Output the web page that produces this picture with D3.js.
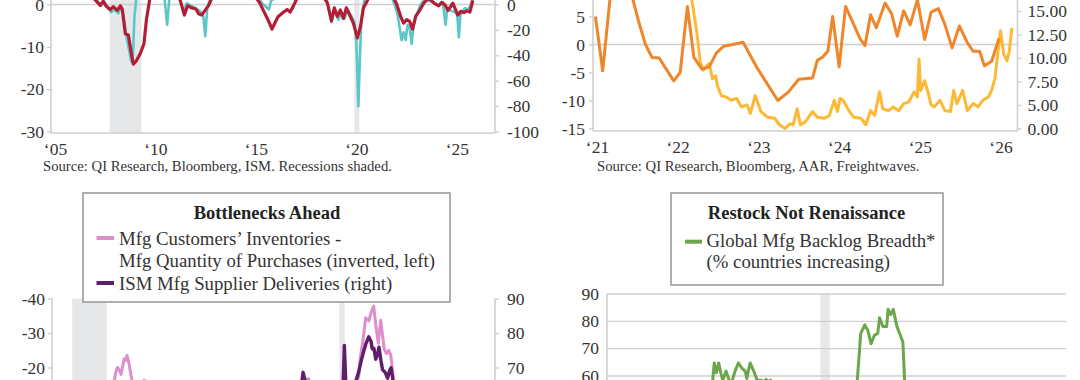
<!DOCTYPE html>
<html>
<head>
<meta charset="utf-8">
<script src="https://cdn.jsdelivr.net/npm/d3@7"></script>
<style>
  body { margin: 0; background: #fff; }
</style>
</head>
<body>
<div id="chart-area"></div>
<script>
const FONT = "'Liberation Serif', 'Times New Roman', serif"

// recession / covid shading, shared by the panels
const recessions = [[2007.92, 2009.5], [2020.1, 2020.35]]

// ---- top left panel
const tlYears = [2005, 2010, 2015, 2020, 2025]
const tlLeftTicks = [0, -10, -20, -30]
const tlRightTicks = [0, -20, -40, -60, -80, -100]
const tlRed = [[2005.0, 8], [2006.0, 6], [2006.8, 3], [2007.26, 0.8], [2007.45, -0.2], [2007.6, 0.8], [2007.75, -0.4],
  [2007.95, -1.2], [2008.1, -0.5], [2008.3, -1.4], [2008.45, -0.3], [2008.55, -1.2], [2008.7, -6.9], [2008.85, -7.2],
  [2009.0, -11.6], [2009.1, -14.1], [2009.25, -13.3], [2009.45, -11.5], [2009.63, -9.2], [2009.75, -3.6], [2009.87, 0],
  [2010.1, 6], [2010.8, 5], [2011.4, 1.5], [2011.64, -2.5], [2011.8, -0.3], [2012.0, -0.8], [2012.2, -1.0], [2012.35, -2.2],
  [2012.5, -2.5], [2012.65, -1.5], [2012.85, -0.2], [2013.0, 1.5], [2014.0, 6], [2015.0, 3], [2015.4, 0.3], [2015.55, -1.2],
  [2015.8, -3.6], [2016.0, -5.8], [2016.15, -4.3], [2016.3, -2.9], [2016.55, -1.9], [2016.75, -1.2], [2016.9, -1.8],
  [2017.05, -0.5], [2017.2, 1], [2017.7, 5], [2018.3, 4], [2018.76, 0.3], [2018.96, -3.9], [2019.1, -0.8], [2019.25, -2.8],
  [2019.4, -1.3], [2019.55, -3.3], [2019.7, -0.8], [2019.85, -2.3], [2020.05, -4.4], [2020.25, -7.9], [2020.4, -5.3],
  [2020.55, -0.8], [2020.7, 0.5], [2021.3, 6], [2022.0, 2], [2022.2, 0.2], [2022.4, -2.8], [2022.55, -4.4], [2022.7, -3.6],
  [2022.85, -4.0], [2023.0, -5.8], [2023.15, -2.8], [2023.35, -1.4], [2023.55, 0.3], [2023.8, 1.5], [2024.1, 0.2],
  [2024.3, -0.3], [2024.45, 0.5], [2024.63, -0.2], [2024.75, -1.4], [2024.88, -0.6], [2025.0, 0.3], [2025.25, -2.5],
  [2025.4, -1.6], [2025.55, -1.9], [2025.7, -1.5], [2025.85, -1.8], [2026.0, 1.0]]
const tlTeal = [[2005.0, 30], [2006.0, 25], [2007.0, 12], [2007.3, 3], [2007.5, -1], [2007.65, 2], [2007.85, -3],
  [2008.0, -6], [2008.15, -4], [2008.35, -7], [2008.5, -2], [2008.6, -8], [2008.75, -25], [2008.9, -37], [2009.0, -45],
  [2009.08, -40], [2009.15, -10], [2009.25, 5], [2009.6, 25], [2010.2, 30], [2010.65, 5], [2010.78, -16], [2010.9, 6],
  [2011.4, 6], [2011.6, -6], [2011.75, 1], [2012.1, -2], [2012.4, -5], [2012.58, -9], [2012.68, -25], [2012.78, -2],
  [2013.1, 12], [2014.0, 20], [2015.0, 12], [2015.5, 1], [2015.85, -4], [2015.95, 3], [2016.5, 8], [2017.2, 20],
  [2018.3, 20], [2018.75, 2], [2018.96, -14], [2019.1, -4], [2019.3, -12], [2019.45, -6], [2019.62, -11], [2019.75, -4],
  [2019.95, -9], [2020.1, -14], [2020.2, -30], [2020.3, -80], [2020.38, -40], [2020.45, -12], [2020.6, 4], [2021.0, 30],
  [2021.8, 12], [2022.1, 0], [2022.25, -8], [2022.35, -18], [2022.45, -28], [2022.55, -22], [2022.65, -28], [2022.75, -16],
  [2022.85, -18], [2022.95, -31], [2023.05, -16], [2023.2, -8], [2023.4, 0], [2023.6, 4], [2024.0, 2], [2024.3, -1],
  [2024.5, 2], [2024.64, -16], [2024.72, -3], [2024.9, -5], [2025.1, -6], [2025.22, -8], [2025.3, -26], [2025.38, -8],
  [2025.6, -3], [2025.8, -4], [2025.95, 3]]

// ---- top right panel
const trYears = [2021, 2022, 2023, 2024, 2025, 2026]
const trLeftTicks = [5, 0, -5, -10, -15]
const trRightTicks = [15, 12.5, 10, 7.5, 5, 2.5]
const trRightLabels = ["15.00", "12.50", "10.00", "7.50", "5.00", "0.00"]
const trOrange = [[2021.03, 5.0], [2021.12, -4.7], [2021.22, 9.5], [2021.33, 13], [2021.45, 10.5], [2021.56, 4.4],
  [2021.65, 0], [2021.73, -2.3], [2021.82, -2.4], [2022.0, -6.5], [2022.08, -5.0], [2022.17, 6.8], [2022.25, -2.3],
  [2022.35, -4.4], [2022.44, -4.0], [2022.53, -1.5], [2022.62, -0.3], [2022.73, 0], [2022.86, 0.4], [2023.03, -4.1],
  [2023.29, -10.0], [2023.42, -8.5], [2023.55, -6.2], [2023.72, -6.0], [2023.78, -2.8], [2023.84, -2.3], [2023.91, -1.2],
  [2023.97, 5.0], [2024.05, -4.0], [2024.13, 6.8], [2024.24, 3.3], [2024.31, 1.0], [2024.37, -0.2], [2024.44, 5.3],
  [2024.51, 3.0], [2024.62, 7.4], [2024.70, 5.5], [2024.77, 1.5], [2024.85, 6.0], [2024.93, 3.5], [2025.02, 8.0],
  [2025.11, 0.9], [2025.19, 5.8], [2025.28, 6.4], [2025.36, 3.6], [2025.45, -0.6], [2025.54, 3.3], [2025.64, 0.3],
  [2025.71, -1.2], [2025.79, -1.2], [2025.85, -3.8], [2025.94, -3.0], [2026.03, 1.1]]
const trYellow = [[2021.0, 28], [2021.5, 30], [2021.9, 24], [2022.15, 18.5], [2022.22, 16.5], [2022.29, 12.5],
  [2022.33, 9.5], [2022.37, 8.7], [2022.41, 9.2], [2022.44, 9.4], [2022.48, 7.8], [2022.52, 8.1], [2022.54, 7.1],
  [2022.59, 6.0], [2022.65, 5.85], [2022.71, 5.5], [2022.78, 5.7], [2022.84, 4.8], [2022.91, 5.0], [2022.95, 4.1],
  [2023.01, 6.0], [2023.08, 4.3], [2023.16, 3.7], [2023.25, 3.6], [2023.31, 2.9], [2023.38, 2.5], [2023.44, 3.0],
  [2023.48, 2.9], [2023.53, 4.6], [2023.57, 2.9], [2023.63, 3.2], [2023.72, 4.3], [2023.78, 3.7], [2023.87, 3.6],
  [2023.93, 3.9], [2023.99, 5.5], [2024.03, 4.3], [2024.06, 5.7], [2024.10, 5.5], [2024.17, 4.4], [2024.23, 3.7],
  [2024.32, 3.6], [2024.38, 2.9], [2024.44, 4.4], [2024.49, 3.9], [2024.55, 6.4], [2024.59, 4.6], [2024.66, 4.4],
  [2024.72, 4.8], [2024.79, 4.4], [2024.85, 5.15], [2024.91, 5.3], [2024.98, 6.4], [2025.02, 5.85], [2025.04, 9.9],
  [2025.06, 6.55], [2025.11, 7.6], [2025.15, 6.4], [2025.19, 5.0], [2025.23, 4.8], [2025.30, 5.5], [2025.36, 4.4],
  [2025.43, 4.3], [2025.47, 6.55], [2025.51, 5.15], [2025.58, 6.55], [2025.64, 4.4], [2025.71, 5.15], [2025.77, 4.8],
  [2025.83, 5.5], [2025.90, 5.85], [2025.94, 6.55], [2025.98, 7.8], [2026.02, 10.8], [2026.05, 12.9], [2026.09, 10.4],
  [2026.13, 9.7], [2026.16, 10.8], [2026.19, 13.2]]

// ---- Bottlenecks Ahead
const blTitle = "Bottlenecks Ahead"
const blLegend = ["Mfg Customers’ Inventories -", "Mfg Quantity of Purchases (inverted, left)", "ISM Mfg Supplier Deliveries (right)"]
const blLeftTicks = [-40, -30, -20]
const blRightTicks = [90, 80, 70]
const blPink = [[2007.0, -5], [2007.5, -3], [2008.0, 2], [2008.5, 5], [2009.0, 10], [2009.4, 0], [2009.7, -12],
  [2009.82, -15], [2009.9, -18.5], [2009.98, -20.0], [2010.05, -19.5], [2010.15, -18.0], [2010.29, -22.5], [2010.35, -22.0],
  [2010.42, -23.5], [2010.5, -21.5], [2010.61, -17.5], [2010.69, -15], [2010.9, -13], [2011.1, -15.5], [2011.2, -16.3],
  [2011.3, -16.0], [2011.45, -14], [2011.7, -10], [2012.3, -4], [2013.0, -7], [2014.0, -10], [2015.0, -6], [2016.0, -3],
  [2017.0, -9], [2017.8, -13], [2018.3, -15], [2018.45, -17.2], [2018.55, -16.2], [2018.7, -16.8], [2018.85, -14],
  [2019.3, -6], [2019.8, -2], [2020.2, -8], [2020.5, -4], [2020.8, -12], [2021.0, -18], [2021.05, -22.5], [2021.2, -28.8],
  [2021.3, -34.4], [2021.45, -33.5], [2021.55, -36], [2021.67, -37.8], [2021.78, -31.5], [2021.88, -27], [2021.99, -33.7],
  [2022.15, -25.3], [2022.25, -24], [2022.35, -25], [2022.45, -23.6], [2022.54, -18.3], [2022.65, -12], [2023.0, -4],
  [2023.5, 0], [2024.0, -3], [2024.5, -2], [2025.0, -6], [2025.5, -5], [2025.9, -8]]
const blPurple = [[2007.0, 52], [2008.0, 50], [2008.9, 37], [2009.5, 45], [2010.3, 60], [2011.0, 57], [2011.5, 55],
  [2012.0, 50], [2013.0, 52], [2014.0, 56], [2015.0, 52], [2016.0, 50], [2017.0, 56], [2018.0, 62], [2018.35, 64],
  [2018.45, 68.6], [2018.55, 66], [2018.7, 63], [2019.0, 56], [2019.6, 52], [2020.0, 48], [2020.25, 60], [2020.33, 76.4],
  [2020.42, 62], [2020.6, 58], [2020.85, 66], [2020.97, 68.4], [2021.1, 72], [2021.2, 74.4], [2021.32, 77], [2021.44, 78.9],
  [2021.55, 77.5], [2021.6, 75.4], [2021.68, 75.5], [2021.76, 72.4], [2021.85, 74], [2021.91, 75.9], [2022.0, 72],
  [2022.07, 69.4], [2022.2, 68.5], [2022.3, 66.9], [2022.4, 69.2], [2022.46, 69.9], [2022.57, 65.4], [2022.8, 58],
  [2023.2, 48], [2024.0, 47], [2024.8, 50], [2025.3, 54], [2025.9, 50]]

// ---- Restock Not Renaissance
const brTitle = "Restock Not Renaissance"
const brLegend = ["Global Mfg Backlog Breadth*", "(% countries increasing)"]
const brTicks = [90, 80, 70, 60]
const brGreen = [[2014.33, 45], [2015.0, 38], [2015.8, 42], [2016.5, 48], [2016.9, 54], [2017.1, 56], [2017.18, 57.1],
  [2017.23, 64.6], [2017.29, 61.0], [2017.35, 64.6], [2017.41, 60.8], [2017.46, 58.3], [2017.55, 61.6], [2017.63, 58.3],
  [2017.69, 57.1], [2017.79, 61.5], [2017.88, 64.6], [2017.97, 62.8], [2018.07, 61.5], [2018.11, 58.9], [2018.2, 64.6],
  [2018.3, 61.5], [2018.39, 58.3], [2018.49, 58.3], [2018.58, 57.7], [2018.63, 58.6], [2018.69, 57.7], [2018.75, 58.3],
  [2018.78, 57.0], [2019.0, 52], [2019.5, 40], [2019.9, 30], [2020.3, 8], [2020.6, 25], [2020.9, 45], [2021.09, 57],
  [2021.19, 75.4], [2021.3, 78.5], [2021.38, 76.6], [2021.47, 71.6], [2021.56, 74.7], [2021.65, 75.4], [2021.7, 81.1],
  [2021.79, 77.9], [2021.89, 77.9], [2021.93, 84.2], [2022.0, 82.3], [2022.07, 84.2], [2022.17, 77.9], [2022.26, 74.7],
  [2022.33, 72.2], [2022.38, 57], [2022.6, 45], [2023.0, 38], [2023.6, 35], [2024.2, 40], [2024.8, 45], [2025.4, 50],
  [2025.9, 48]]

const axisGrey = "#cfcfcf"
const textColor = "#333"

let svg = d3.select("#chart-area").append("svg")
  .attr("width", 1080)
  .attr("height", 380)
  .style("display", "block")

// helpers
function shade(x, top, bottom) {
  let dom = x.domain()
  recessions.filter(r => r[1] > dom[0] && r[0] < dom[1]).forEach(r => {
    svg.append("rect")
      .attr("x", x(r[0]))
      .attr("width", x(r[1]) - x(r[0]))
      .attr("y", top)
      .attr("height", bottom - top)
      .attr("fill", "#e6e7e9")
  })
}

function vline(xPos, y1, y2) {
  svg.append("line")
    .attr("x1", xPos).attr("x2", xPos).attr("y1", y1).attr("y2", y2)
    .attr("stroke", axisGrey).attr("stroke-width", 1.6)
}

function hline(yPos, x1, x2) {
  svg.append("line")
    .attr("x1", x1).attr("x2", x2).attr("y1", yPos).attr("y2", yPos)
    .attr("stroke", axisGrey).attr("stroke-width", 1.6)
}

function styleAxis(g) {
  g.attr("font-family", FONT).attr("font-size", 17.5)
  g.select(".domain").remove()
  g.selectAll(".tick line").attr("stroke", axisGrey).attr("stroke-width", 1.4)
  g.selectAll(".tick text").attr("fill", textColor)
}

// plain hyphen for negatives, like the original
const plain = d => String(d)

function yAxis(axisFn, scale, ticks, xPos, padding, labels) {
  let axis = axisFn(scale).tickValues(ticks).tickSize(4).tickSizeOuter(0).tickPadding(padding)
  axis.tickFormat(labels ? (d, i) => labels[i] : plain)
  let g = svg.append("g").attr("transform", "translate(" + xPos + ",0)").call(axis)
  styleAxis(g)
  return g
}

function xAxis(scale, years, yPos) {
  let g = svg.append("g")
    .attr("transform", "translate(0," + yPos + ")")
    .call(d3.axisBottom(scale).tickValues(years).tickSize(0).tickPadding(9.5)
      .tickFormat(d => "‘" + String(d).slice(2)))
  styleAxis(g)
  g.selectAll(".tick text").attr("dx", 4)
}

function drawLine(data, x, y, color, width) {
  svg.append("path")
    .datum(data)
    .attr("fill", "none")
    .attr("stroke", color)
    .attr("stroke-width", width)
    .attr("stroke-linejoin", "round")
    .attr("d", d3.line().x(d => x(d[0])).y(d => y(d[1])))
}

function note(txt, x, y) {
  svg.append("text")
    .attr("x", x).attr("y", y)
    .attr("font-family", FONT).attr("font-size", 14.7)
    .attr("fill", textColor)
    .text(txt)
}

// ================= top left
let xTL = d3.scaleLinear().domain([2005, 2027.1]).range([51, 495])
let yTL = d3.scaleLinear().domain([-30, 0]).range([131.5, 4.5])
let yTLr = d3.scaleLinear().domain([-100, 0]).range([131.5, 4.5])

shade(xTL, -20, 133)
hline(yTL(0), 51, 495)
vline(51, -20, 133)
vline(495, -20, 133)
hline(133, 51, 495)
yAxis(d3.axisLeft, yTL, tlLeftTicks, 51, 3)
yAxis(d3.axisRight, yTLr, tlRightTicks, 495, 8)
xAxis(xTL, tlYears, 133)
drawLine(tlTeal, xTL, yTLr, "#5cc7c9", 2.6)
drawLine(tlRed, xTL, yTL, "#b41e35", 3.2)
note("Source: QI Research, Bloomberg, ISM. Recessions shaded.", 43, 171)

// ================= top right
let xTR = d3.scaleLinear().domain([2021, 2026.26]).range([593, 1017.5])
let yTR = d3.scaleLinear().domain([-15, 5]).range([128.5, 16.5])
let yTRr = d3.scaleLinear().domain([2.5, 15]).range([128.5, 11])

hline(yTR(0), 593, 1017.5)
vline(593, -20, 131)
vline(1017.5, -20, 131)
hline(131, 593, 1017.5)
yAxis(d3.axisLeft, yTR, trLeftTicks, 593, 4)
yAxis(d3.axisRight, yTRr, trRightTicks, 1017.5, 6, trRightLabels)
xAxis(xTR, trYears, 131)
drawLine(trYellow, xTR, yTRr, "#fdb935", 3)
drawLine(trOrange, xTR, yTR, "#f0862a", 3)
note("Source: QI Research, Bloomberg, AAR, Freightwaves.", 597, 171)

// ================= bottom left: Bottlenecks Ahead
let xBL = d3.scaleLinear().domain([2007.0, 2027.2]).range([52, 495])
let yBL = d3.scaleLinear().domain([-40, -20]).range([298.5, 367.5])
let yBLr = d3.scaleLinear().domain([90, 70]).range([298.5, 367.5])

shade(xBL, 298.5, 400)
vline(52, 298.5, 400)
vline(495, 298.5, 400)
yAxis(d3.axisLeft, yBL, blLeftTicks, 52, 3)
yAxis(d3.axisRight, yBLr, blRightTicks, 495, 8)
drawLine(blPink, xBL, yBL, "#dc8fcb", 3)
drawLine(blPurple, xBL, yBLr, "#5f1e69", 3.4)

// ================= bottom right: Restock Not Renaissance
let xBR = d3.scaleLinear().domain([2014.33, 2026.74]).range([607, 1066])
let yBR = d3.scaleLinear().domain([60, 90]).range([375.5, 293.5])

shade(xBR, 293.5, 400)
let gBR = svg.append("g").attr("transform", "translate(607,0)")
  .call(d3.axisLeft(yBR).tickValues(brTicks).tickFormat(plain)
    .tickSize(-(1066 - 607)).tickSizeOuter(0).tickPadding(8))
styleAxis(gBR)
vline(607, 293.5, 400)
drawLine(brGreen, xBR, yBR, "#6ba74a", 3)

// ================= legends
function legendBox(x, y, w, h, title, titleX) {
  svg.append("rect")
    .attr("x", x).attr("y", y).attr("width", w).attr("height", h)
    .attr("fill", "#fff").attr("stroke", "#9c9c9c").attr("stroke-width", 1.6)
  svg.append("text")
    .attr("x", titleX).attr("y", 219)
    .attr("text-anchor", "middle")
    .attr("font-family", FONT).attr("font-size", 18.5).attr("font-weight", "bold")
    .attr("fill", "#222")
    .text(title)
}

function legendText(txt, x, y) {
  svg.append("text")
    .attr("x", x).attr("y", y)
    .attr("font-family", FONT).attr("font-size", 18.8)
    .attr("fill", textColor)
    .text(txt)
}

function swatch(x1, x2, y, color) {
  svg.append("line")
    .attr("x1", x1).attr("x2", x2).attr("y1", y).attr("y2", y)
    .attr("stroke", color).attr("stroke-width", 4)
}

legendBox(83, 193, 367, 109, blTitle, 267)
swatch(96.5, 114, 238, "#dc8fcb")
swatch(96.5, 114, 283, "#5f1e69")
legendText(blLegend[0], 119, 245)
legendText(blLegend[1], 119, 266.5)
legendText(blLegend[2], 119, 290)

legendBox(671, 193, 272, 92, brTitle, 806.5)
swatch(685, 702, 241.7, "#6ba74a")
legendText(brLegend[0], 706.5, 247)
legendText(brLegend[1], 706.5, 268)
</script>
</body>
</html>
